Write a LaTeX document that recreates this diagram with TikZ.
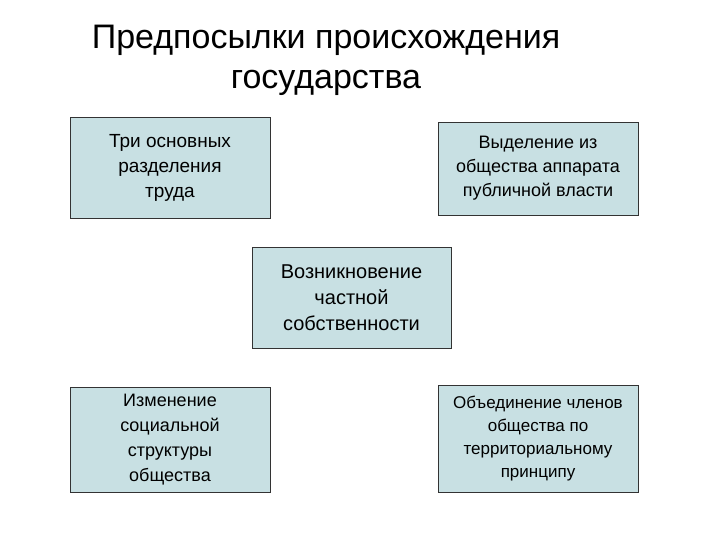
\documentclass[tikz,border=0pt]{standalone}
\usepackage{fontspec}
\setmainfont{Liberation Sans}
\definecolor{boxfill}{HTML}{C8E0E3}
\begin{document}
\begin{tikzpicture}[x=1pt,y=-1pt,
  bx/.style={draw=black!80,fill=boxfill,line width=0.8pt,align=center,inner sep=0pt}]
\useasboundingbox (0,0) rectangle (720,540);
\node[align=center,font=\fontsize{34}{40}\selectfont] (title) at (326,60) {Предпосылки происхождения\\\hspace*{0pt}государства};
\node[bx,minimum width=200,minimum height=101,font=\fontsize{19}{25}\selectfont] (b1) at (170,167.5) {Три основных\\разделения\\труда};
\node[bx,minimum width=200,minimum height=93,font=\fontsize{18}{24}\selectfont] (b2) at (538,168.5) {Выделение из\\общества аппарата\\публичной власти};
\node[bx,minimum width=199,minimum height=101,font=\fontsize{20}{26}\selectfont] (b3) at (351.5,297.5) {Возникновение\\частной\\собственности};
\node[bx,minimum width=200,minimum height=105,font=\fontsize{18}{25}\selectfont] (b4) at (170,439.5) {Изменение\\социальной\\структуры\\общества};
\node[bx,minimum width=200,minimum height=107,font=\fontsize{17}{23}\selectfont] (b5) at (538,438.5) {Объединение членов\\общества по\\территориальному\\принципу};
\end{tikzpicture}
\end{document}
